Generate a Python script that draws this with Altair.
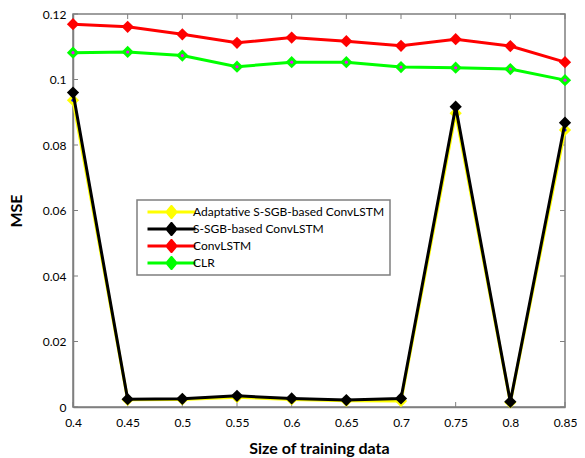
import altair as alt
import pandas as pd

sizes = [0.4, 0.45, 0.5, 0.55, 0.6, 0.65, 0.7, 0.75, 0.8, 0.85]
adaptive = [0.0937, 0.0022, 0.0023, 0.0030, 0.0023, 0.0019, 0.0018, 0.0897, 0.0014, 0.0846]
ssgb = [0.0960, 0.0024, 0.0025, 0.0034, 0.0026, 0.0021, 0.0026, 0.0917, 0.0016, 0.0868]
convlstm = [0.1169, 0.1161, 0.1138, 0.1112, 0.1128, 0.1117, 0.1103, 0.1123, 0.1102, 0.1053]
clr = [0.1082, 0.1084, 0.1073, 0.1039, 0.1053, 0.1053, 0.1038, 0.1036, 0.1032, 0.0998]

names = ["Adaptative S-SGB-based ConvLSTM", "S-SGB-based ConvLSTM", "ConvLSTM", "CLR"]
colors = ["#ffff00", "#000000", "#ff0000", "#00ff00"]
dot_colors = ["#0000ff", None, None, "#ff00ff"]
series = [adaptive, ssgb, convlstm, clr]

x_ticks = [0.4, 0.45, 0.5, 0.55, 0.6, 0.65, 0.7, 0.75, 0.8, 0.85]
y_ticks = [0, 0.02, 0.04, 0.06, 0.08, 0.1, 0.12]

rows = []
for n, vals in zip(names, series):
    for s, v in zip(sizes, vals):
        rows.append({"size": s, "mse": v, "model": n})
df = pd.DataFrame(rows)

W, H = 492, 393
FONT = "Lato"
FRAME = "#7f7f7f"

xs = alt.Scale(domain=[0.4, 0.85], nice=False, zero=False)
ys = alt.Scale(domain=[0, 0.12], nice=False)
cs = alt.Scale(domain=names, range=colors)

legend = alt.Legend(
    title=None, orient="none", legendX=64, legendY=186,
    symbolType="M-4,0H4M0,-0.9L0.75,0L0,0.9L-0.75,0Z",
    symbolSize=144, symbolStrokeWidth=3, symbolOffset=22,
    labelOffset=14, labelFontSize=12, labelFont=FONT, labelLimit=400,
    fillColor="white", strokeColor=FRAME, padding=5, rowPadding=3, clipHeight=14,
)

xenc = alt.X("size:Q", scale=xs,
             axis=alt.Axis(title="Size of training data", values=x_ticks, format=".2~f",
                           tickSize=0, labelPadding=10, titlePadding=12, labelFlush=False))
yenc = alt.Y("mse:Q", scale=ys,
             axis=alt.Axis(title="MSE", values=y_ticks, format=".2~f",
                           tickSize=0, labelPadding=7, titlePadding=18, labelFlush=False))

layers = []
for i, n in enumerate(names):
    base = alt.Chart(df).transform_filter(alt.datum.model == n)
    line = base.mark_line(strokeWidth=3).encode(
        x=xenc, y=yenc, color=alt.Color("model:N", scale=cs, legend=legend))
    pts = base.mark_point(shape="diamond", filled=True, size=150, opacity=1).encode(
        x=xenc, y=yenc, color=alt.Color("model:N", scale=cs, legend=legend))
    layers += [line, pts]
    if dot_colors[i]:
        dots = base.mark_point(shape="circle", filled=True, size=10, opacity=1,
                               color=dot_colors[i]).encode(x=xenc, y=yenc)
        layers.append(dots)

xt = pd.DataFrame({"t": x_ticks})
yt = pd.DataFrame({"t": y_ticks})
tick_style = dict(color=FRAME, strokeWidth=1)
xtb = alt.Chart(xt).mark_rule(**tick_style).encode(
    x=alt.X("t:Q", scale=xs), y=alt.value(H), y2=alt.value(H - 5))
xtt = alt.Chart(xt).mark_rule(**tick_style).encode(
    x=alt.X("t:Q", scale=xs), y=alt.value(0), y2=alt.value(5))
ytl = alt.Chart(yt).mark_rule(**tick_style).encode(
    y=alt.Y("t:Q", scale=ys), x=alt.value(0), x2=alt.value(5))
ytr = alt.Chart(yt).mark_rule(**tick_style).encode(
    y=alt.Y("t:Q", scale=ys), x=alt.value(W), x2=alt.value(W - 5))

chart = alt.layer(xtb, xtt, ytl, ytr, *layers).properties(
    width=W, height=H, background="white",
    autosize=alt.AutoSizeParams(type="none"),
    padding={"left": 65, "top": 6, "right": 12, "bottom": 51},
).configure_view(stroke=FRAME, strokeWidth=1.5).configure_axis(
    domainColor=FRAME, domainWidth=1.5, grid=False,
    labelFont=FONT, labelFontSize=12, labelColor="#000",
    titleFont=FONT, titleFontSize=16, titleFontWeight="bold", titleColor="#000",
).configure_legend(strokeWidth=1.5)

chart.save("out.html", embed_options={"renderer": "svg", "actions": False})
